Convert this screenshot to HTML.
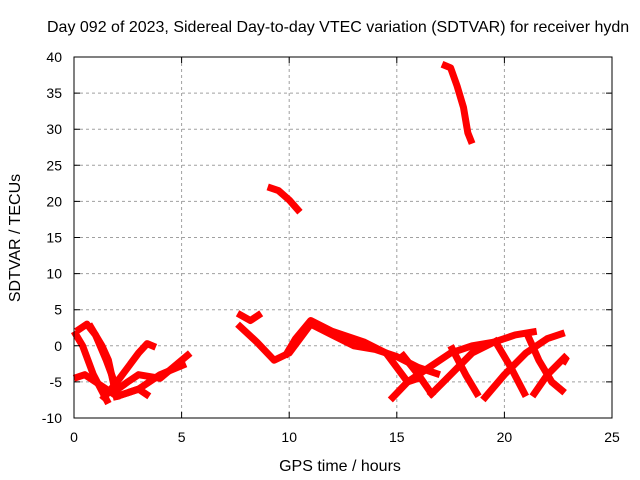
<!DOCTYPE html>
<html><head><meta charset="utf-8"><style>
body{margin:0;background:#fff;}
svg{display:block;font-family:"Liberation Sans",sans-serif;}
</style></head><body>
<svg id="chart" width="640" height="480">
<text x="47" y="32" font-size="16">Day 092 of 2023, Sidereal Day-to-day VTEC variation (SDTVAR) for receiver hydn</text>
<g id="grid"></g>
<g id="series"></g>
<rect x="74" y="57" width="538" height="361" fill="none" stroke="#000" stroke-width="1"/>
<g id="axes"></g>
<text x="340" y="471" font-size="16" text-anchor="middle">GPS time / hours</text>
<text transform="translate(20,238) rotate(-90)" font-size="16" text-anchor="middle">SDTVAR / TECUs</text>
</svg>
<script>
const xTicks=[0,5,10,15,20,25];
const yTicks=[-10,-5,0,5,10,15,20,25,30,35,40];
const trackHours=[
[17.1,17.5,17.8,18.1,18.3,18.5],
[9,9.5,10,10.5],
[0.1,0.6,1.0,1.5,2.0],
[0,0.4,0.9,1.6],
[0.7,1.3,1.6,2.0],
[1.3,2.0,3.0,3.4,3.8],
[1.8,2.5,3.0,4.0,5.4],
[2.0,3.0,4.0,5.2],
[0,0.5,1.0,2.0,3.0,3.5],
[7.6,8.2,8.7],
[7.6,8.5,9.3,10,11,12,13,14,15,16,17],
[9.8,10.3,11,12,13.5,14.5,15,15.5,16],
[14.7,15.5,16.5,17.5,18.5,19.5],
[16.5,17.5,18.5,19.5,20.5,21.5],
[19,20,21,22,22.8],
[21.3,22,22.9],
[15.2,16,16.7],
[17.5,18.2,18.8],
[19.5,20.3,21],
[21,21.6,22.2,22.8],
[22.7,22.9]
];
const trackValues=[
[39,38.5,36,33,29.5,28],
[22,21.5,20.2,18.5],
[2,3,1.5,-2,-6],
[2,0,-4,-8],
[3,0,-2,-7.5],
[-7.5,-5,-1,0.3,-0.2],
[-6.5,-5,-4,-4.5,-1],
[-7,-6,-4,-2.5],
[-4.5,-4,-5,-7,-6,-7],
[4.5,3.5,4.5],
[3,0.5,-2,-1,3,1.5,0,-0.5,-1.5,-3,-4],
[-1.5,1,3.5,2,0.5,-1,-3,-5,-4.5],
[-7.5,-5,-3,-1,0,0.5],
[-7,-4,-1,0.5,1.5,2],
[-7.5,-4,-1,1,1.8],
[-7,-4,-1.3],
[-1,-4,-7],
[0,-4,-7],
[1,-3,-7],
[2,-2,-5,-6.5],
[-2.5,-1.5]
];
const X=h=>74+h*538/25, Y=v=>57+(40-v)*361/50;
const NS="http://www.w3.org/2000/svg";
const grid=document.getElementById('grid'),axes=document.getElementById('axes'),ser=document.getElementById('series');
xTicks.forEach(t=>{
 if(t>0&&t<25){const l=document.createElementNS(NS,'line');l.setAttribute('x1',X(t));l.setAttribute('x2',X(t));l.setAttribute('y1',57);l.setAttribute('y2',418);l.setAttribute('stroke','#a0a0a0');l.setAttribute('stroke-dasharray','3,3');
 
 grid.appendChild(l);}
 const k=document.createElementNS(NS,'path');k.setAttribute('d',`M${X(t)},418v-6M${X(t)},57v6`);k.setAttribute('stroke','#000');
 
 axes.appendChild(k);
 const tx=document.createElementNS(NS,'text');tx.setAttribute('x',X(t));tx.setAttribute('y',442);tx.setAttribute('font-size','14');tx.setAttribute('text-anchor','middle');tx.textContent=t;
 
 axes.appendChild(tx);
});
yTicks.forEach(t=>{
 if(t>-10&&t<40){const l=document.createElementNS(NS,'line');l.setAttribute('x1',74);l.setAttribute('x2',612);l.setAttribute('y1',Y(t));l.setAttribute('y2',Y(t));l.setAttribute('stroke','#a0a0a0');l.setAttribute('stroke-dasharray','3,3');
 
 grid.appendChild(l);}
 const k=document.createElementNS(NS,'path');k.setAttribute('d',`M74,${Y(t)}h6M612,${Y(t)}h-6`);k.setAttribute('stroke','#000');
 
 axes.appendChild(k);
 const tx=document.createElementNS(NS,'text');tx.setAttribute('x',62);tx.setAttribute('y',Y(t)+5);tx.setAttribute('font-size','14');tx.setAttribute('text-anchor','end');tx.textContent=t;
 
 axes.appendChild(tx);
});
trackHours.forEach((hs,i)=>{
 const p=document.createElementNS(NS,'polyline');
 p.setAttribute('points',hs.map((h,j)=>X(h)+','+Y(trackValues[i][j])).join(' '));
 p.setAttribute('fill','none');p.setAttribute('stroke','#f00');p.setAttribute('stroke-width','7');p.setAttribute('stroke-linejoin','round');
 
 
 ser.appendChild(p);
});
</script>
</body></html>
